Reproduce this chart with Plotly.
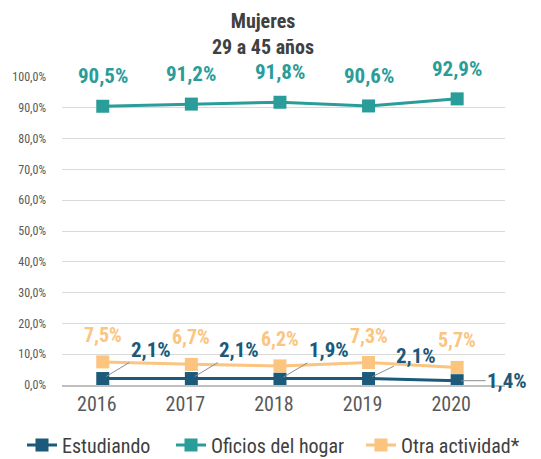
import plotly.graph_objects as go

years = ["2016", "2017", "2018", "2019", "2020"]
estudiando = [2.1, 2.1, 1.9, 2.1, 1.4]
oficios = [90.5, 91.2, 91.8, 90.6, 92.9]
otra = [7.5, 6.7, 6.2, 7.3, 5.7]
series_names = ["Estudiando", "Oficios del hogar", "Otra actividad*"]
y_ticks = [0, 10, 20, 30, 40, 50, 60, 70, 80, 90, 100]
y_ticktext = [f"{v:.1f}".replace(".", ",") + "%" for v in y_ticks]

C_EST = "#1b5a7a"
C_OFI = "#2a9c99"
C_OTR = "#fbc47f"
FONT = "Roboto Condensed, Liberation Sans Narrow, Roboto, sans-serif"

def lab(v):
    return f"{v:.1f}".replace(".", ",") + "%"

legend_ids = ["legend", "legend2", "legend3"]
legend_x = [22, 171, 361]

fig = go.Figure()
for name, vals, col, lid in zip(series_names, [estudiando, oficios, otra], [C_EST, C_OFI, C_OTR], legend_ids):
    fig.add_trace(go.Scatter(
        x=years, y=vals, name=name, mode="lines+markers", legend=lid,
        line=dict(color=col, width=3),
        marker=dict(symbol="square", size=13, color=col),
    ))

ann = []
for i, v in enumerate(oficios):
    ann.append(dict(x=i, y=v, text=f"<b>{lab(v)}</b>", showarrow=False, yshift=30,
                    font=dict(family=FONT, size=21, color=C_OFI)))
for i, v in enumerate(otra):
    ann.append(dict(x=i, y=v, text=f"<b>{lab(v)}</b>", showarrow=False, yshift=27,
                    font=dict(family=FONT, size=20, color=C_OTR)))
offs = [(48, -29), (48, -29), (49, -29), (47, -23), (50, 0)]
for i, (v, (ax, ay)) in enumerate(zip(estudiando, offs)):
    ann.append(dict(x=i, y=v, text=f"<b>{lab(v)}</b>", showarrow=True, ax=ax, ay=ay,
                    arrowhead=0, arrowwidth=1, arrowcolor="#8c8c8c", standoff=4,
                    font=dict(family=FONT, size=21, color=C_EST)))

W, H = 541, 459
leg_common = dict(orientation="h", xref="container", yref="container",
                  xanchor="left", y=14 / H, yanchor="middle",
                  font=dict(family=FONT, size=20, color="#404040"))
layout_legends = {lid: dict(x=lx / W, **leg_common) for lid, lx in zip(legend_ids, legend_x)}

fig.update_layout(
    width=W, height=H,
    margin=dict(l=62, r=36, t=77, b=74, autoexpand=False),
    paper_bgcolor="white", plot_bgcolor="white",
    title=dict(text="<b>Mujeres<br>29 a 45 años</b>", x=263 / W, xanchor="center",
               y=0.94, yanchor="top", xref="container",
               font=dict(family=FONT, size=20, color="#404040")),
    annotations=ann,
    showlegend=True,
    xaxis=dict(type="category", range=[-0.46, 4.54], showgrid=False, showline=True,
               linecolor="#bfbfbf", linewidth=2, ticks="", ticklabelshift=-6,
               tickfont=dict(family=FONT, size=20, color="#595959")),
    yaxis=dict(range=[0, 100], tickvals=y_ticks, ticktext=y_ticktext,
               showgrid=True, gridcolor="#d9d9d9", zeroline=False, showline=False,
               tickfont=dict(family=FONT, size=12, color="#595959"), ticklabelstandoff=15),
    **layout_legends,
)
fig.write_html("out.html", config={"displayModeBar": False},
               post_script="document.body.style.margin='0';document.body.style.overflow='hidden';")
